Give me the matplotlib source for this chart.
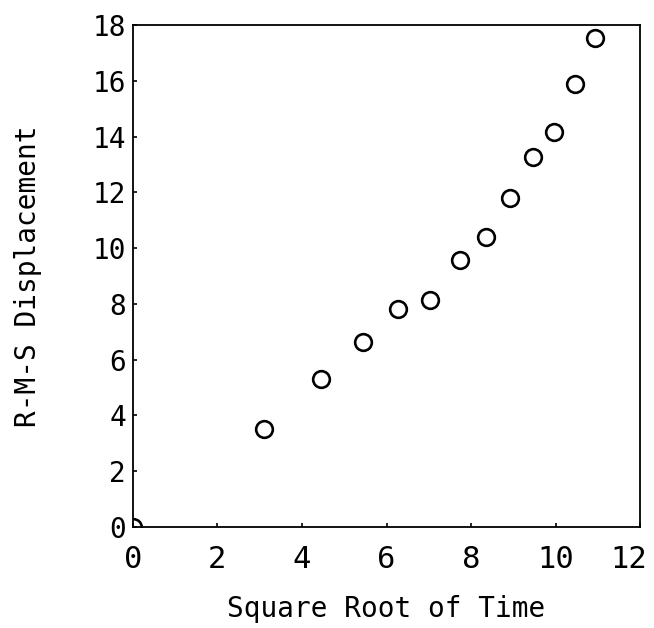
import matplotlib.pyplot as plt
from matplotlib.transforms import ScaledTranslation

# values
sqrt_time = [0.0, 3.1, 4.45, 5.45, 6.28, 7.03, 7.73, 8.36, 8.91, 9.47, 9.97, 10.46, 10.93]
rms_disp = [0.0, 3.5, 5.3, 6.62, 7.8, 8.13, 9.57, 10.4, 11.8, 13.27, 14.18, 15.9, 17.53]

x_ticks = [0, 2, 4, 6, 8, 10, 12]
y_ticks = [0, 2, 4, 6, 8, 10, 12, 14, 16, 18]

plt.rcParams['font.family'] = ['DejaVu Sans Mono']

fig = plt.figure(figsize=(6.54, 6.28), dpi=100)
ax = fig.add_axes([0.203, 0.161, 0.776, 0.799])

ax.plot(sqrt_time, rms_disp, 'o', mfc='none', mec='black', mew=1.9, ms=12)

ax.set_xlim(0, 12)
ax.set_ylim(0, 18)
ax.set_xticks(x_ticks)
ax.set_yticks(y_ticks)
ax.tick_params(direction='in', length=3, width=1.2, labelsize=20)
ax.tick_params(axis='x', pad=13, labelsize=22)
ax.tick_params(axis='y', pad=5)

# last x label sits a little left of its tick, like the original
lab = ax.get_xticklabels()[-1]
lab.set_transform(lab.get_transform() + ScaledTranslation(-8 / 72, 0, fig.dpi_scale_trans))

for s in ax.spines.values():
    s.set_linewidth(1.3)

ax.set_xlabel('Square Root of Time', fontsize=20, labelpad=15)
ax.set_ylabel('R-M-S Displacement', fontsize=20, labelpad=36)

fig.savefig('out.png')
